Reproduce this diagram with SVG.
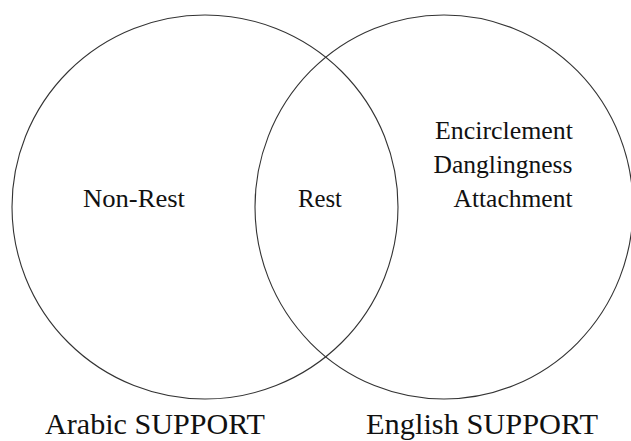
<svg xmlns="http://www.w3.org/2000/svg" width="631" height="441" viewBox="0 0 631 441">
<style>
.set{fill:none;stroke:#333;stroke-width:1.1}
text{font-family:'Liberation Serif','DejaVu Serif',serif;fill:#111}
.m{font-size:25px}
.b{font-size:30px}
</style>
<rect width="631" height="441" fill="#fff"/>
<g id="arabic">
<ellipse class="set" cx="205" cy="207" rx="193" ry="192"/>
<text class="m" x="83" y="207" textLength="102" lengthAdjust="spacingAndGlyphs">Non-Rest</text>
<text class="b" x="45" y="434" textLength="220" lengthAdjust="spacingAndGlyphs">Arabic SUPPORT</text>
</g>
<g id="english">
<ellipse class="set" cx="444" cy="207" rx="189" ry="192"/>
<text class="m" x="435" y="139" textLength="138" lengthAdjust="spacingAndGlyphs">Encirclement</text>
<text class="m" x="433.5" y="173" textLength="139" lengthAdjust="spacingAndGlyphs">Danglingness</text>
<text class="m" x="453.5" y="207" textLength="119" lengthAdjust="spacingAndGlyphs">Attachment</text>
<text class="b" x="366" y="434" textLength="232" lengthAdjust="spacingAndGlyphs">English SUPPORT</text>
</g>
<g id="overlap">
<text class="m" x="298" y="207" textLength="44" lengthAdjust="spacingAndGlyphs">Rest</text>
</g>
<g id="connectors"/>
</svg>
